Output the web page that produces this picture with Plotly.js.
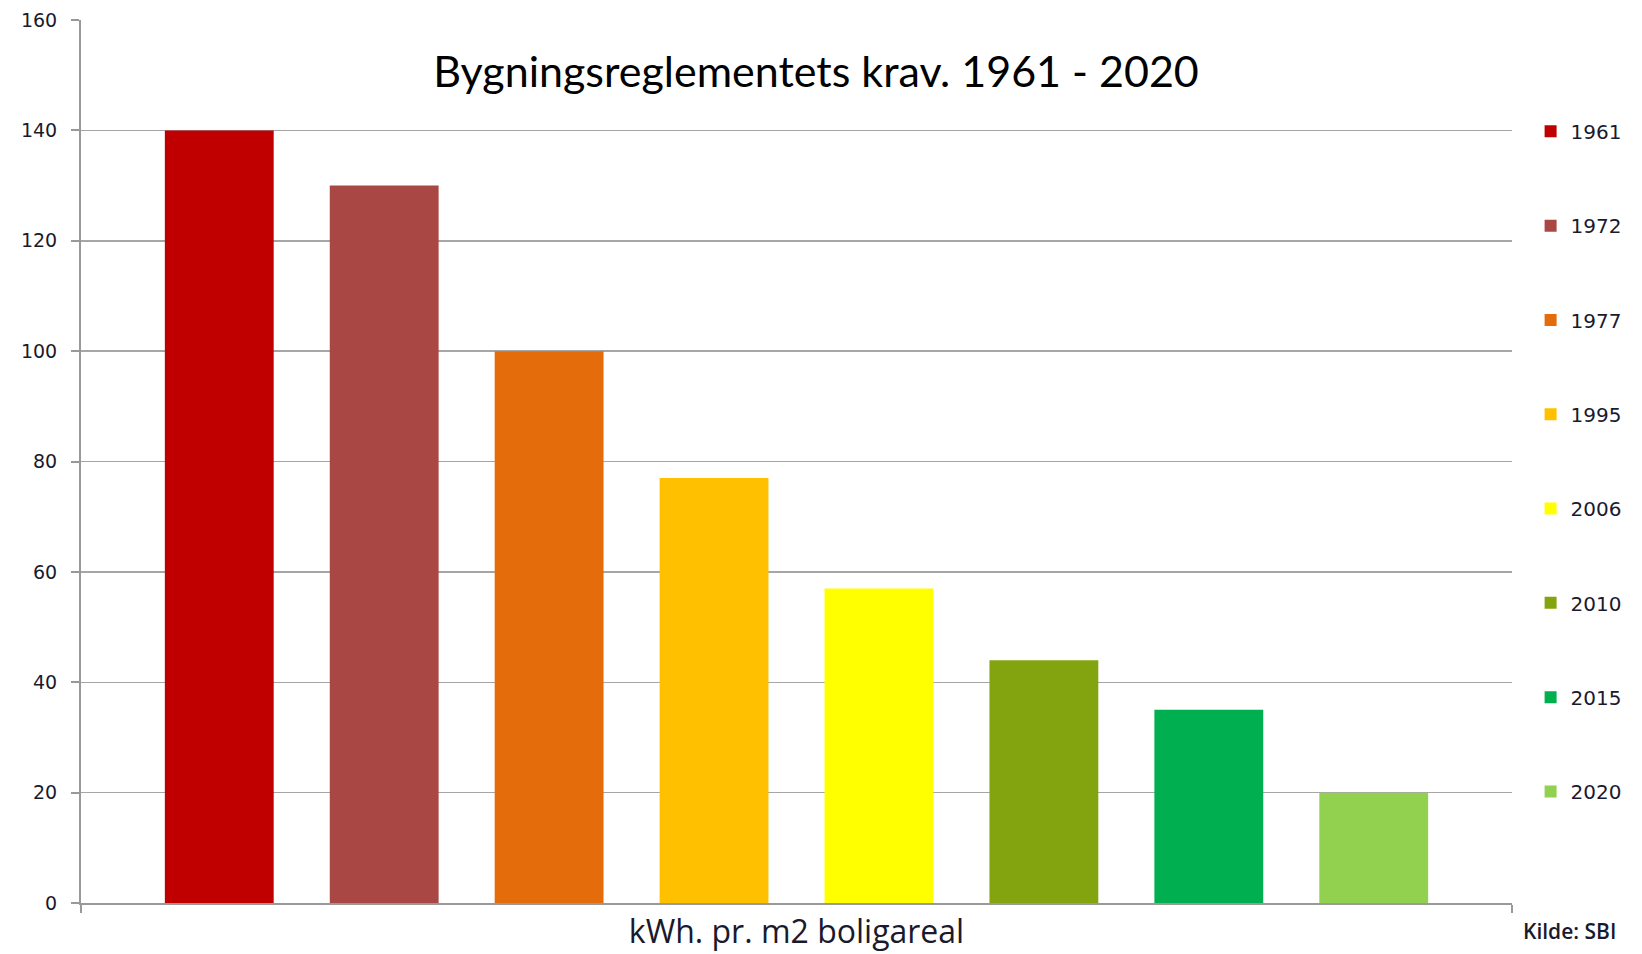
<!DOCTYPE html>
<html>
<head>
<meta charset="utf-8">
<script src="https://cdn.plot.ly/plotly-3.0.1.min.js"></script>
<style>html,body{margin:0;padding:0;background:#fff;}#chart{width:1642px;height:954px;}</style>
</head>
<body>
<div id="chart"></div>
<script>
const category = "kWh. pr. m2 boligareal";
const years = ["1961", "1972", "1977", "1995", "2006", "2010", "2015", "2020"];
const values = [140, 130, 100, 77, 57, 44, 35, 20];
const colors = ["#C00000", "#A84744", "#E46C0A", "#FFC000", "#FFFF00", "#84A40F", "#00B050", "#92D050"];
const yTicks = [0, 20, 40, 60, 80, 100, 120, 140, 160];

const traces = years.map((yr, i) => ({
  type: "bar",
  name: yr,
  legendgroup: yr,
  x: [category],
  y: [values[i]],
  marker: {color: colors[i], line: {width: 0}},
  hoverinfo: "name+y"
}));

const layout = {
  width: 1642, height: 954,
  margin: {l: 81, r: 130, t: 20, b: 51},
  paper_bgcolor: "#fff", plot_bgcolor: "#fff",
  barmode: "group",
  bargap: 0.078,
  bargroupgap: 0.34,
  title: {
    text: "Bygningsreglementets krav. 1961 - 2020",
    font: {family: "Lato, 'Open Sans', sans-serif", size: 43, color: "#000"},
    x: 0.497, xanchor: "center", y: 0.925, yanchor: "middle"
  },
  xaxis: {
    type: "category",
    showline: true, linecolor: "#999", linewidth: 2,
    ticks: "outside", tickson: "boundaries", ticklen: 8, tickcolor: "#999", tickwidth: 2,
    tickfont: {family: "'Open Sans', sans-serif", size: 32, color: "#1a1a2e"},
    ticklabelstandoff: 0,
    showgrid: false
  },
  yaxis: {
    range: [0, 160], tickvals: yTicks, ticktext: yTicks.map(String),
    showline: true, linecolor: "#999", linewidth: 2,
    ticks: "outside", ticklen: 8, tickcolor: "#999", tickwidth: 2,
    showgrid: true, gridcolor: "#a6a6a6", gridwidth: 1.5,
    zeroline: false,
    ticklabelstandoff: 10,
    tickfont: {family: "'DejaVu Sans', sans-serif", size: 19, color: "#1a1a2e"}
  },
  legend: {
    x: 1.013, xanchor: "left", y: 0.896, yanchor: "top",
    traceorder: "grouped", tracegroupgap: 65.3,
    font: {family: "'DejaVu Sans', sans-serif", size: 20, color: "#1a1a2e"},
    bgcolor: "rgba(0,0,0,0)", itemwidth: 30
  },
  annotations: [{
    text: "Kilde: SBI", xref: "paper", yref: "paper",
    x: 1.0063, y: -0.032, xanchor: "left", yanchor: "middle",
    showarrow: false,
    font: {family: "'Open Sans', sans-serif", size: 21, weight: 600, color: "#1a1a2e"}
  }]
};

Plotly.newPlot("chart", traces, layout, {displayModeBar: false, staticPlot: true});
</script>
</body>
</html>
